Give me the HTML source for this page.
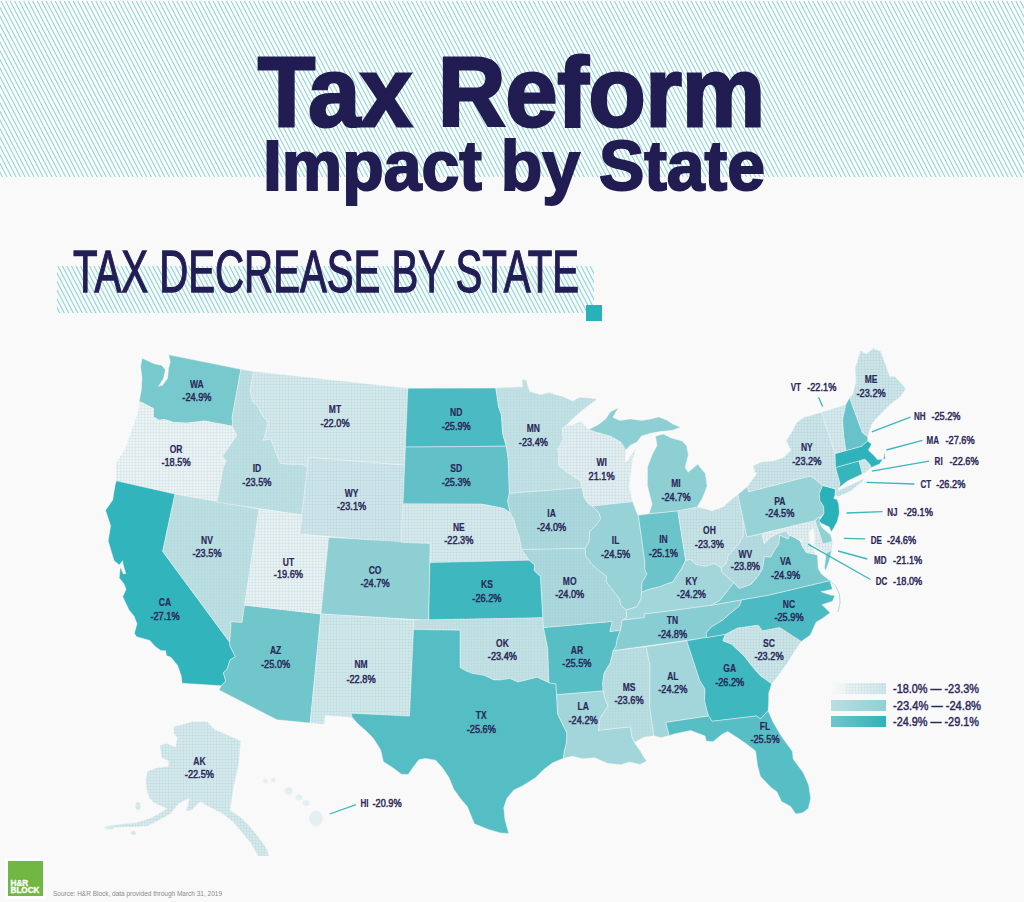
<!DOCTYPE html>
<html><head><meta charset="utf-8"><style>
html,body{margin:0;padding:0;background:#f9f9f9;}
svg{display:block;font-family:"Liberation Sans",sans-serif;}
.ab{font-size:11.5px;font-weight:bold;fill:#2a2859;text-anchor:middle;stroke:#2a2859;stroke-width:0.2px;}
.nm{font-size:11.5px;font-weight:normal;fill:#2a2859;text-anchor:middle;stroke:#2a2859;stroke-width:0.5px;}
.st{text-anchor:start;}
</style></head><body>
<svg width="1024" height="902" viewBox="0 0 1024 902">
<defs>
<pattern id="hatch" width="4" height="4" patternUnits="userSpaceOnUse" patternTransform="rotate(-27.5)">
<rect x="0" y="0" width="1.05" height="4" fill="#84d4d3"/></pattern>
<pattern id="grid" width="3" height="3" patternUnits="userSpaceOnUse">
<rect x="0" y="0" width="3" height="0.6" fill="#8fb3bd" fill-opacity="0.22"/><rect x="0" y="0" width="0.6" height="3" fill="#8fb3bd" fill-opacity="0.22"/></pattern>
<linearGradient id="lg1" x1="0" x2="1"><stop offset="0" stop-color="#f8f8f8"/><stop offset="1" stop-color="#cfe8ea"/></linearGradient>
<linearGradient id="lg2" x1="0" x2="1"><stop offset="0" stop-color="#b9dfe2"/><stop offset="1" stop-color="#8fd0d4"/></linearGradient>
<linearGradient id="lg3" x1="0" x2="1"><stop offset="0" stop-color="#6fc6cb"/><stop offset="1" stop-color="#30b2ba"/></linearGradient>
</defs>
<rect width="1024" height="902" fill="#f9f9f9"/>
<rect x="0" y="1" width="1024" height="176" fill="#ffffff"/>
<rect x="0" y="1" width="1024" height="176" fill="url(#hatch)"/>
<text x="258" y="126" font-size="99" font-weight="bold" fill="#211d52" stroke="#211d52" stroke-width="3" textLength="507" lengthAdjust="spacingAndGlyphs">Tax Reform</text>
<text x="263" y="190" font-size="70" font-weight="bold" fill="#211d52" stroke="#211d52" stroke-width="2" textLength="502" lengthAdjust="spacingAndGlyphs">Impact by State</text>
<rect x="57" y="266" width="537" height="47" fill="url(#hatch)"/>
<text x="73" y="292" font-size="60" fill="#221e55" stroke="#221e55" stroke-width="1.3" textLength="506" lengthAdjust="spacingAndGlyphs">TAX DECREASE BY STATE</text>
<rect x="586" y="305" width="16" height="16" fill="#2ab0b8"/>
<g stroke="#f4f7f7" stroke-width="0.45" stroke-linejoin="round">
<path d="M139.2,401.5 141.1,402.2 148.5,405.9 153.4,408.5 153.3,416.9 158.9,420.2 164.6,419.5 173.7,422.5 187.5,423.1 200.3,421.5 204.6,421.0 232.2,426.2 232.8,422.9 232.1,417.7 240.9,369.3 168.7,354.7 170.3,361.8 168.5,368.7 167.5,378.4 162.5,385.3 158.6,386.2 163.5,378.5 165.4,369.7 161.5,365.3 154.8,363.9 142.0,358.2 140.6,366.5 142.0,377.7 141.5,387.4 141.1,391.3 139.2,401.5Z" fill="#78c9ce"/>
<path d="M139.2,401.5 141.1,402.2 148.5,405.9 153.4,408.5 153.3,416.9 158.9,420.2 164.6,419.5 173.7,422.5 187.5,423.1 200.3,421.5 204.6,421.0 232.2,426.2 236.7,435.4 230.9,444.2 222.6,456.2 226.3,460.8 223.2,467.8 216.9,502.2 116.3,480.8 115.7,463.7 121.8,454.2 125.8,447.2 131.1,432.5 136.8,416.0 139.2,406.7Z" fill="#ebf3f4"/>
<path d="M139.2,401.5 141.1,402.2 148.5,405.9 153.4,408.5 153.3,416.9 158.9,420.2 164.6,419.5 173.7,422.5 187.5,423.1 200.3,421.5 204.6,421.0 232.2,426.2 236.7,435.4 230.9,444.2 222.6,456.2 226.3,460.8 223.2,467.8 216.9,502.2 116.3,480.8 115.7,463.7 121.8,454.2 125.8,447.2 131.1,432.5 136.8,416.0 139.2,406.7Z" fill="url(#grid)" stroke="none" opacity="1.00"/>
<path d="M116.3,480.8 175.0,494.1 162.7,551.4 229.7,642.2 230.0,646.2 235.4,656.7 230.1,659.9 227.0,669.3 223.4,672.7 225.7,680.9 221.4,685.7 182.1,683.3 181.3,675.9 177.6,665.4 170.9,657.3 166.4,655.5 165.7,650.8 160.8,650.5 155.1,646.4 149.9,640.4 136.5,636.7 134.4,633.3 137.0,623.8 134.1,616.3 129.1,610.2 122.7,596.7 126.0,589.5 124.1,584.1 119.2,577.9 120.3,567.1 123.4,573.9 125.8,573.4 123.2,564.8 122.7,560.7 119.3,564.9 114.1,560.7 108.2,541.1 110.6,525.7 105.5,510.3 112.7,500.0 115.0,485.6Z" fill="#32b4bc"/>
<path d="M175.0,494.1 259.3,509.1 242.1,622.4 231.1,621.8 230.5,632.5 229.7,642.2 162.7,551.4Z" fill="#bcdfe2"/>
<path d="M175.0,494.1 259.3,509.1 242.1,622.4 231.1,621.8 230.5,632.5 229.7,642.2 162.7,551.4Z" fill="url(#grid)" stroke="none" opacity="0.60"/>
<path d="M244.5,605.1 320.9,614.0 310.2,723.0 277.0,719.8 219.0,689.9 221.4,685.7 225.7,680.9 223.4,672.7 227.0,669.3 230.1,659.9 235.4,656.7 230.0,646.2 229.7,642.2 230.5,632.5 231.1,621.8 242.1,622.4Z" fill="#70c6cb"/>
<path d="M240.9,369.3 253.5,371.5 250.2,390.7 252.7,401.4 257.7,406.1 264.0,417.8 267.1,419.5 267.4,426.2 263.5,440.2 271.0,438.8 275.9,452.8 280.7,463.3 289.7,464.1 302.0,464.2 307.5,467.2 301.9,514.9 216.9,502.2 223.2,467.8 226.3,460.8 222.6,456.2 230.9,444.2 236.7,435.4 232.2,426.2 232.8,422.9 232.1,417.7Z" fill="#bcdfe2"/>
<path d="M240.9,369.3 253.5,371.5 250.2,390.7 252.7,401.4 257.7,406.1 264.0,417.8 267.1,419.5 267.4,426.2 263.5,440.2 271.0,438.8 275.9,452.8 280.7,463.3 289.7,464.1 302.0,464.2 307.5,467.2 301.9,514.9 216.9,502.2 223.2,467.8 226.3,460.8 222.6,456.2 230.9,444.2 236.7,435.4 232.2,426.2 232.8,422.9 232.1,417.7Z" fill="url(#grid)" stroke="none" opacity="0.60"/>
<path d="M253.5,371.5 407.8,388.2 404.6,465.2 308.7,457.3 307.5,467.2 302.0,464.2 289.7,464.1 280.7,463.3 275.9,452.8 271.0,438.8 263.5,440.2 267.4,426.2 267.1,419.5 264.0,417.8 257.7,406.1 252.7,401.4 250.2,390.7Z" fill="#d4e9eb"/>
<path d="M253.5,371.5 407.8,388.2 404.6,465.2 308.7,457.3 307.5,467.2 302.0,464.2 289.7,464.1 280.7,463.3 275.9,452.8 271.0,438.8 263.5,440.2 267.4,426.2 267.1,419.5 264.0,417.8 257.7,406.1 252.7,401.4 250.2,390.7Z" fill="url(#grid)" stroke="none" opacity="1.00"/>
<path d="M308.7,457.3 404.6,465.2 401.3,542.5 299.6,534.1Z" fill="#cee6e9"/>
<path d="M308.7,457.3 404.6,465.2 401.3,542.5 299.6,534.1Z" fill="url(#grid)" stroke="none" opacity="1.00"/>
<path d="M259.1,509.1 301.9,514.9 299.6,534.1 328.6,537.3 320.9,614.0 244.5,605.1Z" fill="#e9f2f3"/>
<path d="M259.1,509.1 301.9,514.9 299.6,534.1 328.6,537.3 320.9,614.0 244.5,605.1Z" fill="url(#grid)" stroke="none" opacity="1.00"/>
<path d="M328.6,537.3 430.3,543.3 428.5,620.3 320.9,614.0Z" fill="#8dcfd3"/>
<path d="M320.9,614.0 413.9,619.9 413.5,629.5 409.5,716.1 351.1,713.2 352.3,717.5 325.0,715.5 324.2,724.2 310.2,723.0Z" fill="#d1e8ea"/>
<path d="M320.9,614.0 413.9,619.9 413.5,629.5 409.5,716.1 351.1,713.2 352.3,717.5 325.0,715.5 324.2,724.2 310.2,723.0Z" fill="url(#grid)" stroke="none" opacity="1.00"/>
<path d="M407.8,388.2 495.8,388.1 497.0,395.6 498.6,407.0 501.4,414.6 502.7,433.7 506.3,446.2 405.4,447.1Z" fill="#4cbac2"/>
<path d="M405.4,447.1 506.3,446.2 508.2,458.5 509.4,493.2 507.6,501.1 510.2,512.8 503.7,508.5 494.5,506.6 481.5,504.2 403.0,503.9Z" fill="#62c1c8"/>
<path d="M403.0,503.9 481.5,504.2 494.5,506.6 503.7,508.5 510.2,512.8 514.1,520.2 516.6,529.8 519.4,537.4 521.6,549.4 529.1,560.2 429.9,562.6 430.3,543.3 401.3,542.5Z" fill="#d6eaed"/>
<path d="M403.0,503.9 481.5,504.2 494.5,506.6 503.7,508.5 510.2,512.8 514.1,520.2 516.6,529.8 519.4,537.4 521.6,549.4 529.1,560.2 429.9,562.6 430.3,543.3 401.3,542.5Z" fill="url(#grid)" stroke="none" opacity="1.00"/>
<path d="M429.9,562.6 529.1,560.2 534.6,564.7 534.2,570.6 540.5,576.6 542.9,617.8 428.7,620.3Z" fill="#3eb7bf"/>
<path d="M413.9,619.9 542.9,617.8 543.5,627.5 547.8,648.6 548.9,682.7 537.0,677.3 527.5,679.7 517.9,682.1 509.7,678.5 500.1,680.1 493.7,679.9 484.0,675.3 472.7,673.5 466.3,671.0 460.0,667.5 460.1,630.2 413.5,629.5Z" fill="#c2e1e4"/>
<path d="M413.9,619.9 542.9,617.8 543.5,627.5 547.8,648.6 548.9,682.7 537.0,677.3 527.5,679.7 517.9,682.1 509.7,678.5 500.1,680.1 493.7,679.9 484.0,675.3 472.7,673.5 466.3,671.0 460.0,667.5 460.1,630.2 413.5,629.5Z" fill="url(#grid)" stroke="none" opacity="0.60"/>
<path d="M413.5,629.5 460.1,630.2 460.0,667.5 466.3,671.0 472.7,673.5 484.0,675.3 493.7,679.9 500.1,680.1 509.7,678.5 517.9,682.1 527.5,679.7 537.0,677.3 548.9,682.7 556.0,684.0 556.6,694.6 557.7,714.0 562.2,723.4 566.9,732.8 566.6,742.6 564.5,750.5 563.4,758.3 552.3,763.0 544.0,769.3 535.8,777.5 522.3,785.9 513.8,790.1 507.0,798.1 503.7,807.8 504.9,819.4 508.7,833.5 500.8,832.9 488.4,829.4 474.3,823.8 467.3,806.5 460.5,798.7 453.7,789.0 448.8,777.3 442.2,767.5 435.6,760.2 425.5,758.4 418.8,759.8 413.5,766.8 408.2,774.4 401.4,774.2 393.2,768.0 383.4,761.7 380.7,749.9 373.0,737.8 366.7,731.6 357.3,723.3 352.3,717.5 351.1,713.2 409.5,716.1Z" fill="#55bdc4"/>
<path d="M556.6,694.6 603.1,690.8 604.9,698.4 608.1,705.9 600.1,718.4 598.5,730.2 630.5,726.8 632.0,736.4 634.3,742.4 636.4,745.6 640.4,751.0 644.6,758.2 646.7,760.9 640.1,764.6 629.5,761.9 621.1,764.8 607.2,763.3 594.7,757.7 582.8,758.8 572.4,756.3 563.4,758.3 564.5,750.5 566.6,742.6 566.9,732.8 562.2,723.4 557.7,714.0Z" fill="#a3d6da"/>
<path d="M543.5,627.5 612.3,621.4 610.0,631.4 620.4,630.3 617.4,638.5 615.9,646.5 613.2,650.7 610.4,662.7 604.2,673.1 602.7,683.0 603.1,690.8 556.6,694.6 556.0,684.0 548.9,682.7 547.8,648.6Z" fill="#58bec5"/>
<path d="M521.6,549.4 585.2,548.2 585.5,555.6 591.6,563.8 598.2,570.0 606.4,576.0 606.3,581.9 612.6,590.0 619.8,599.0 620.5,604.8 626.2,610.0 626.7,617.8 622.3,620.2 620.4,630.3 610.0,631.4 612.3,621.4 543.5,627.5 542.9,617.8 540.5,576.6 534.2,570.6 534.6,564.7 529.1,560.2Z" fill="#aad8dc"/>
<path d="M521.6,549.4 585.2,548.2 585.5,555.6 591.6,563.8 598.2,570.0 606.4,576.0 606.3,581.9 612.6,590.0 619.8,599.0 620.5,604.8 626.2,610.0 626.7,617.8 622.3,620.2 620.4,630.3 610.0,631.4 612.3,621.4 543.5,627.5 542.9,617.8 540.5,576.6 534.2,570.6 534.6,564.7 529.1,560.2Z" fill="url(#grid)" stroke="none" opacity="0.60"/>
<path d="M509.4,493.2 582.2,487.6 584.1,497.2 588.3,503.6 592.3,506.1 599.3,513.1 600.7,518.8 596.3,525.2 589.7,531.7 589.2,541.5 585.2,548.2 521.6,549.4 519.4,537.4 516.6,529.8 514.1,520.2 510.2,512.8 507.6,501.1Z" fill="#aad8dc"/>
<path d="M509.4,493.2 582.2,487.6 584.1,497.2 588.3,503.6 592.3,506.1 599.3,513.1 600.7,518.8 596.3,525.2 589.7,531.7 589.2,541.5 585.2,548.2 521.6,549.4 519.4,537.4 516.6,529.8 514.1,520.2 510.2,512.8 507.6,501.1Z" fill="url(#grid)" stroke="none" opacity="0.60"/>
<path d="M495.8,388.1 522.5,386.7 522.2,379.5 524.8,379.5 526.5,380.7 528.7,388.6 529.9,391.6 540.4,394.6 549.4,392.4 556.1,394.7 564.1,396.9 572.3,400.9 579.9,397.3 590.5,398.1 597.2,399.3 584.8,408.3 572.5,419.1 565.0,426.5 562.5,428.2 563.3,439.5 557.9,449.2 559.0,454.9 558.4,465.6 565.7,470.8 571.6,475.1 580.5,481.0 582.2,487.6 509.4,493.2 508.2,458.5 506.3,446.2 502.7,433.7 501.4,414.6 498.6,407.0 497.0,395.6Z" fill="#c2e1e4"/>
<path d="M495.8,388.1 522.5,386.7 522.2,379.5 524.8,379.5 526.5,380.7 528.7,388.6 529.9,391.6 540.4,394.6 549.4,392.4 556.1,394.7 564.1,396.9 572.3,400.9 579.9,397.3 590.5,398.1 597.2,399.3 584.8,408.3 572.5,419.1 565.0,426.5 562.5,428.2 563.3,439.5 557.9,449.2 559.0,454.9 558.4,465.6 565.7,470.8 571.6,475.1 580.5,481.0 582.2,487.6 509.4,493.2 508.2,458.5 506.3,446.2 502.7,433.7 501.4,414.6 498.6,407.0 497.0,395.6Z" fill="url(#grid)" stroke="none" opacity="0.60"/>
<path d="M565.0,426.5 573.0,424.8 580.7,421.2 588.6,429.6 597.8,432.7 610.2,435.9 621.1,442.2 625.7,449.9 624.8,462.6 628.0,460.3 636.2,447.6 633.3,457.7 631.6,466.6 630.5,474.5 629.2,486.4 630.9,493.9 632.6,501.7 592.3,506.1 588.3,503.6 584.1,497.2 582.2,487.6 580.5,481.0 571.6,475.1 565.7,470.8 558.4,465.6 559.0,454.9 557.9,449.2 563.3,439.5 562.5,428.2Z" fill="#e2eef0"/>
<path d="M565.0,426.5 573.0,424.8 580.7,421.2 588.6,429.6 597.8,432.7 610.2,435.9 621.1,442.2 625.7,449.9 624.8,462.6 628.0,460.3 636.2,447.6 633.3,457.7 631.6,466.6 630.5,474.5 629.2,486.4 630.9,493.9 632.6,501.7 592.3,506.1 588.3,503.6 584.1,497.2 582.2,487.6 580.5,481.0 571.6,475.1 565.7,470.8 558.4,465.6 559.0,454.9 557.9,449.2 563.3,439.5 562.5,428.2Z" fill="url(#grid)" stroke="none" opacity="1.00"/>
<path d="M592.3,506.1 632.6,501.7 636.0,510.8 638.5,516.4 644.8,561.5 645.0,570.3 647.0,573.9 642.1,582.4 641.5,592.3 641.2,598.3 636.9,606.7 626.2,610.0 620.5,604.8 619.8,599.0 612.6,590.0 606.3,581.9 606.4,576.0 598.2,570.0 591.6,563.8 585.5,555.6 585.2,548.2 589.2,541.5 589.7,531.7 596.3,525.2 600.7,518.8 599.3,513.1Z" fill="#96d2d6"/>
<path d="M638.4,515.2 648.9,513.8 677.8,510.8 685.7,560.4 681.4,568.9 678.2,573.3 672.7,582.0 666.8,583.9 659.6,586.9 649.2,589.3 641.5,592.3 642.1,582.4 647.0,573.9 645.0,570.3 644.8,561.5Z" fill="#6bc4ca"/>
<path d="M677.8,510.8 697.1,507.1 704.0,508.4 711.9,510.9 723.0,506.9 731.8,499.2 737.9,494.4 743.2,519.7 743.4,526.3 743.2,536.2 739.3,542.9 731.2,552.4 728.1,556.0 726.4,563.2 721.1,567.7 714.1,563.4 705.4,566.3 695.9,564.6 690.5,559.6 685.7,560.4Z" fill="#c8e3e6"/>
<path d="M677.8,510.8 697.1,507.1 704.0,508.4 711.9,510.9 723.0,506.9 731.8,499.2 737.9,494.4 743.2,519.7 743.4,526.3 743.2,536.2 739.3,542.9 731.2,552.4 728.1,556.0 726.4,563.2 721.1,567.7 714.1,563.4 705.4,566.3 695.9,564.6 690.5,559.6 685.7,560.4Z" fill="url(#grid)" stroke="none" opacity="1.00"/>
<path d="M622.3,620.2 644.6,617.5 644.1,614.0 667.9,611.2 711.2,605.3 719.5,600.8 729.7,588.1 733.8,582.6 722.0,572.4 721.1,567.7 714.1,563.4 705.4,566.3 695.9,564.6 690.5,559.6 685.7,560.4 681.4,568.9 678.2,573.3 672.7,582.0 666.8,583.9 659.6,586.9 649.2,589.3 641.5,592.3 641.2,598.3 636.9,606.7 626.2,610.0 626.7,617.8Z" fill="#a3d6da"/>
<path d="M622.3,620.2 644.6,617.5 644.1,614.0 667.9,611.2 711.2,605.3 741.7,599.8 739.5,606.0 729.8,613.8 723.0,619.9 711.5,626.9 706.2,632.7 706.7,637.6 613.2,650.7 615.9,646.5 617.4,638.5 620.4,630.3Z" fill="#88cdd2"/>
<path d="M613.2,650.7 646.1,646.7 650.1,665.8 649.6,707.0 653.9,735.7 643.9,737.3 634.3,742.4 632.0,736.4 630.5,726.8 598.5,730.2 600.1,718.4 608.1,705.9 604.9,698.4 603.1,690.8 602.7,683.0 604.2,673.1 610.4,662.7Z" fill="#b9dee1"/>
<path d="M613.2,650.7 646.1,646.7 650.1,665.8 649.6,707.0 653.9,735.7 643.9,737.3 634.3,742.4 632.0,736.4 630.5,726.8 598.5,730.2 600.1,718.4 608.1,705.9 604.9,698.4 603.1,690.8 602.7,683.0 604.2,673.1 610.4,662.7Z" fill="url(#grid)" stroke="none" opacity="0.60"/>
<path d="M646.1,646.7 686.7,640.8 699.9,680.7 705.1,689.1 704.6,700.9 707.0,710.4 708.7,716.0 665.8,722.4 669.2,735.6 661.0,737.7 653.9,735.7 649.6,707.0 650.1,665.8Z" fill="#a3d6da"/>
<path d="M686.7,640.8 725.5,634.3 722.9,640.7 731.6,644.1 744.6,656.4 751.2,665.1 759.9,675.2 771.7,683.7 768.7,693.2 768.7,701.1 768.1,710.7 760.4,718.9 756.4,716.0 712.0,721.3 708.7,716.0 707.0,710.4 704.6,700.9 705.1,689.1 699.9,680.7Z" fill="#3eb7bf"/>
<path d="M665.8,722.4 708.7,716.0 712.0,721.3 756.4,716.0 760.4,718.9 768.1,710.7 773.0,721.9 781.2,736.0 792.4,751.4 793.2,759.1 803.2,772.6 808.7,785.1 810.7,798.4 808.3,808.6 802.8,812.7 795.8,814.1 790.6,806.5 781.5,801.5 776.8,791.7 770.5,787.1 760.4,776.3 757.6,766.1 755.5,750.9 748.3,745.3 738.3,738.3 727.6,731.4 722.1,734.3 713.0,741.7 706.0,740.9 705.2,736.1 690.7,730.5 674.1,733.9 669.2,735.6Z" fill="#58bec5"/>
<path d="M725.5,634.3 737.4,628.1 757.0,625.3 759.0,625.9 762.2,630.8 779.8,627.5 801.3,641.4 793.3,653.3 788.5,661.3 783.4,668.4 777.7,676.5 771.7,683.7 759.9,675.2 751.2,665.1 744.6,656.4 731.6,644.1 722.9,640.7Z" fill="#cbe5e8"/>
<path d="M725.5,634.3 737.4,628.1 757.0,625.3 759.0,625.9 762.2,630.8 779.8,627.5 801.3,641.4 793.3,653.3 788.5,661.3 783.4,668.4 777.7,676.5 771.7,683.7 759.9,675.2 751.2,665.1 744.6,656.4 731.6,644.1 722.9,640.7Z" fill="url(#grid)" stroke="none" opacity="1.00"/>
<path d="M706.7,637.6 706.2,632.7 711.5,626.9 723.0,619.9 729.8,613.8 739.5,606.0 741.7,599.8 767.4,595.4 829.8,580.6 832.5,589.3 820.9,591.7 831.3,595.3 834.9,595.3 832.5,601.2 821.9,604.7 826.8,609.3 830.2,612.8 822.0,618.7 816.2,622.1 810.3,635.1 801.3,641.4 779.8,627.5 762.2,630.8 759.0,625.9 757.0,625.3 737.4,628.1 725.5,634.3Z" fill="#4cbac2"/>
<path d="M711.2,605.3 741.7,599.8 767.4,595.4 829.8,580.6 821.1,573.7 818.2,568.5 817.5,556.6 817.0,554.7 806.3,552.4 802.4,546.4 800.3,540.9 793.1,536.7 789.4,535.2 788.2,538.9 779.6,535.0 778.7,544.2 775.1,549.0 770.7,557.0 764.4,556.4 762.4,568.7 758.4,575.5 751.5,583.8 746.5,585.9 739.1,588.3 733.8,582.6 729.7,588.1 719.5,600.8Z" fill="#78c9ce"/>
<path d="M831.7,550.1 826.1,553.3 824.4,567.9 825.6,570.6 829.1,561.6Z" fill="#78c9ce"/>
<path d="M721.1,567.7 726.4,563.2 728.1,556.0 731.2,552.4 739.3,542.9 743.2,536.2 743.4,526.3 743.2,519.7 746.9,537.0 762.0,533.7 764.2,543.6 770.9,537.1 777.7,533.5 785.5,530.6 789.4,535.2 788.2,538.9 779.6,535.0 778.7,544.2 775.1,549.0 770.7,557.0 764.4,556.4 762.4,568.7 758.4,575.5 751.5,583.8 746.5,585.9 739.1,588.3 733.8,582.6 722.0,572.4Z" fill="#b3dbdf"/>
<path d="M721.1,567.7 726.4,563.2 728.1,556.0 731.2,552.4 739.3,542.9 743.2,536.2 743.4,526.3 743.2,519.7 746.9,537.0 762.0,533.7 764.2,543.6 770.9,537.1 777.7,533.5 785.5,530.6 789.4,535.2 788.2,538.9 779.6,535.0 778.7,544.2 775.1,549.0 770.7,557.0 764.4,556.4 762.4,568.7 758.4,575.5 751.5,583.8 746.5,585.9 739.1,588.3 733.8,582.6 722.0,572.4Z" fill="url(#grid)" stroke="none" opacity="0.60"/>
<path d="M762.0,533.7 815.3,520.5 822.9,544.0 832.4,541.4 831.7,550.1 826.1,553.3 821.2,549.5 813.9,545.4 814.4,535.2 813.2,527.5 809.1,532.6 810.0,542.4 815.1,553.2 817.0,554.7 806.3,552.4 802.4,546.4 800.3,540.9 793.1,536.7 789.4,535.2 785.5,530.6 777.7,533.5 770.9,537.1 764.2,543.6Z" fill="#e2eef0"/>
<path d="M762.0,533.7 815.3,520.5 822.9,544.0 832.4,541.4 831.7,550.1 826.1,553.3 821.2,549.5 813.9,545.4 814.4,535.2 813.2,527.5 809.1,532.6 810.0,542.4 815.1,553.2 817.0,554.7 806.3,552.4 802.4,546.4 800.3,540.9 793.1,536.7 789.4,535.2 785.5,530.6 777.7,533.5 770.9,537.1 764.2,543.6Z" fill="url(#grid)" stroke="none" opacity="1.00"/>
<path d="M815.3,520.5 817.5,517.6 819.8,517.6 820.1,524.6 823.5,528.7 830.6,534.8 832.4,541.4 822.9,544.0Z" fill="#91d0d5"/>
<path d="M737.9,494.4 747.5,486.6 748.6,491.7 810.1,476.0 814.7,478.7 822.6,485.5 819.4,493.5 819.8,500.4 823.7,506.4 824.1,513.4 819.8,517.6 817.5,517.6 815.3,520.5 746.9,537.0Z" fill="#96d2d6"/>
<path d="M822.6,485.5 835.6,489.0 835.2,494.6 833.7,498.4 837.1,499.5 838.7,504.1 839.4,513.0 837.2,521.8 831.4,532.0 829.3,527.1 821.3,523.3 819.1,520.8 824.1,513.4 823.7,506.4 819.8,500.4 819.4,493.5Z" fill="#2ab1b9"/>
<path d="M747.5,486.6 748.6,491.7 810.1,476.0 814.7,478.7 822.6,485.5 835.6,489.0 835.2,494.6 837.9,496.8 850.1,491.5 862.3,481.6 863.6,478.8 855.1,482.9 844.4,487.8 838.3,490.4 838.9,487.8 840.1,483.4 835.5,467.5 835.1,453.5 821.5,412.2 803.7,417.6 796.6,422.7 791.9,432.0 786.2,440.6 790.9,450.3 783.9,457.2 773.2,461.0 760.4,462.2 753.1,465.9 754.7,472.5 757.0,472.9Z" fill="#cbe5e8"/>
<path d="M747.5,486.6 748.6,491.7 810.1,476.0 814.7,478.7 822.6,485.5 835.6,489.0 835.2,494.6 837.9,496.8 850.1,491.5 862.3,481.6 863.6,478.8 855.1,482.9 844.4,487.8 838.3,490.4 838.9,487.8 840.1,483.4 835.5,467.5 835.1,453.5 821.5,412.2 803.7,417.6 796.6,422.7 791.9,432.0 786.2,440.6 790.9,450.3 783.9,457.2 773.2,461.0 760.4,462.2 753.1,465.9 754.7,472.5 757.0,472.9Z" fill="url(#grid)" stroke="none" opacity="1.00"/>
<path d="M838.9,487.8 840.1,483.4 835.5,467.5 859.0,460.9 862.9,473.7 855.0,477.4 847.0,481.3Z" fill="#36b5bd"/>
<path d="M859.0,460.9 864.7,459.1 869.7,464.0 871.3,467.5 866.8,471.4 862.3,474.1Z" fill="#d3e8ec"/>
<path d="M859.0,460.9 864.7,459.1 869.7,464.0 871.3,467.5 866.8,471.4 862.3,474.1Z" fill="url(#grid)" stroke="none" opacity="1.00"/>
<path d="M835.5,467.5 835.1,453.5 845.9,450.6 861.8,446.2 867.6,440.9 871.6,444.0 868.4,450.2 874.8,456.2 877.5,459.8 885.5,458.8 884.1,452.2 883.8,457.4 879.6,463.9 871.3,467.5 869.7,464.0 864.7,459.1 859.0,460.9Z" fill="#2fb3bb"/>
<path d="M835.1,453.5 845.9,450.6 843.8,435.7 842.6,419.9 845.8,404.6 821.5,412.2Z" fill="#d5e9ec"/>
<path d="M835.1,453.5 845.9,450.6 843.8,435.7 842.6,419.9 845.8,404.6 821.5,412.2Z" fill="url(#grid)" stroke="none" opacity="1.00"/>
<path d="M845.9,450.6 861.8,446.2 867.6,440.9 867.7,436.6 862.5,432.8 849.6,397.6 845.8,404.6 842.6,419.9 843.8,435.7Z" fill="#67c3c9"/>
<path d="M867.7,436.6 871.3,424.9 875.4,419.5 884.1,410.5 890.8,404.1 900.0,396.9 905.8,388.7 900.6,382.4 894.8,376.4 889.6,376.2 880.8,351.6 873.4,348.5 866.2,354.0 860.5,350.7 855.3,367.7 855.9,382.5 852.7,394.6 849.6,397.6 862.5,432.8Z" fill="#cbe5e8"/>
<path d="M867.7,436.6 871.3,424.9 875.4,419.5 884.1,410.5 890.8,404.1 900.0,396.9 905.8,388.7 900.6,382.4 894.8,376.4 889.6,376.2 880.8,351.6 873.4,348.5 866.2,354.0 860.5,350.7 855.3,367.7 855.9,382.5 852.7,394.6 849.6,397.6 862.5,432.8Z" fill="url(#grid)" stroke="none" opacity="1.00"/>
<path d="M648.9,513.8 677.8,510.8 697.1,507.1 702.3,498.6 707.1,486.2 705.4,473.7 697.7,464.3 688.2,472.2 685.1,467.5 688.3,455.0 686.8,445.9 682.1,441.0 671.2,437.9 663.3,433.9 655.5,436.2 657.0,445.5 652.2,454.8 647.5,467.1 647.4,485.6 652.1,504.2Z" fill="#8dcfd3"/>
<path d="M588.6,429.6 597.9,424.9 605.7,418.9 610.4,411.8 618.3,407.9 612.8,417.3 619.8,420.5 630.6,418.9 641.6,420.5 650.9,419.0 658.8,416.9 666.5,419.9 672.8,424.0 680.6,427.2 672.7,430.2 660.2,431.6 650.9,433.2 641.5,436.0 636.7,442.3 630.4,445.2 625.7,449.9 621.1,442.2 610.2,435.9 597.8,432.7Z" fill="#8dcfd3"/>
<path d="M173.8,726.7 L193.2,721.4 L207.2,721.4 L214.3,729.3 L223.0,732.9 L240.6,740.8 L238.9,762.7 L233.6,787.3 L230.1,810.2 L240.6,817.2 L249.4,826.0 L258.2,836.6 L267.0,848.9 L268.8,855.9 L258.2,855.9 L251.2,843.6 L242.4,833.0 L233.6,822.5 L223.0,813.7 L212.5,808.4 L205.5,804.9 L200.2,801.4 L191.4,810.2 L186.1,811.1 L189.6,797.9 L179.1,803.2 L170.3,813.7 L158.0,820.7 L147.5,826.0 L135.2,826.9 L124.6,826.9 L105.3,828.5 L105.3,826.5 L124.6,823.8 L136.9,822.5 L152.7,817.2 L161.5,812.0 L166.8,808.4 L154.5,803.2 L149.2,797.9 L146.6,789.1 L145.7,780.3 L147.5,771.5 L156.2,768.0 L168.6,766.2 L168.6,761.0 L161.5,757.5 L159.8,745.2 L166.8,743.4 L175.6,746.9 L177.3,738.1 L173.8,732.9 Z" fill="#d4e9ec"/><path d="M173.8,726.7 L193.2,721.4 L207.2,721.4 L214.3,729.3 L223.0,732.9 L240.6,740.8 L238.9,762.7 L233.6,787.3 L230.1,810.2 L240.6,817.2 L249.4,826.0 L258.2,836.6 L267.0,848.9 L268.8,855.9 L258.2,855.9 L251.2,843.6 L242.4,833.0 L233.6,822.5 L223.0,813.7 L212.5,808.4 L205.5,804.9 L200.2,801.4 L191.4,810.2 L186.1,811.1 L189.6,797.9 L179.1,803.2 L170.3,813.7 L158.0,820.7 L147.5,826.0 L135.2,826.9 L124.6,826.9 L105.3,828.5 L105.3,826.5 L124.6,823.8 L136.9,822.5 L152.7,817.2 L161.5,812.0 L166.8,808.4 L154.5,803.2 L149.2,797.9 L146.6,789.1 L145.7,780.3 L147.5,771.5 L156.2,768.0 L168.6,766.2 L168.6,761.0 L161.5,757.5 L159.8,745.2 L166.8,743.4 L175.6,746.9 L177.3,738.1 L173.8,732.9 Z" fill="url(#grid)" stroke="none"/>
<ellipse cx="138.0" cy="806.0" rx="2.5" ry="4.0" fill="#d4e9ec" stroke="none"/>
<ellipse cx="133.4" cy="833.0" rx="2.5" ry="2.0" fill="#d4e9ec" stroke="none"/>
<ellipse cx="110.5" cy="827.8" rx="3.0" ry="1.5" fill="#d4e9ec" stroke="none"/>
<ellipse cx="265.6" cy="781.0" rx="2.5" ry="2.5" fill="#e3eff0"/>
<ellipse cx="273.0" cy="780.0" rx="2.5" ry="2.5" fill="#e3eff0"/>
<ellipse cx="288.7" cy="791.0" rx="4.0" ry="4.0" fill="#e3eff0"/>
<ellipse cx="299.0" cy="797.5" rx="3.5" ry="3.0" fill="#e3eff0"/>
<ellipse cx="306.0" cy="803.0" rx="3.5" ry="3.0" fill="#e3eff0"/>
<ellipse cx="316.0" cy="818.4" rx="7.0" ry="8.0" fill="#e3eff0"/>
</g>
<path d="M829.5,580 Q845,592 838,612" fill="none" stroke="#9ad3d6" stroke-width="0.8"/>
<circle cx="801.3" cy="540.6" r="1.2" fill="#eef3f3"/>
<text class="ab" transform="translate(196.9,387.8) scale(0.74,1)">WA</text>
<text class="nm" transform="translate(196.9,401.2) scale(0.8,1)">-24.9%</text>
<text class="ab" transform="translate(335.0,413.4) scale(0.74,1)">MT</text>
<text class="nm" transform="translate(335.0,427.0) scale(0.8,1)">-22.0%</text>
<text class="ab" transform="translate(176.0,453.4) scale(0.74,1)">OR</text>
<text class="nm" transform="translate(176.0,465.9) scale(0.8,1)">-18.5%</text>
<text class="ab" transform="translate(256.9,472.0) scale(0.74,1)">ID</text>
<text class="nm" transform="translate(256.9,486.2) scale(0.8,1)">-23.5%</text>
<text class="ab" transform="translate(351.6,497.0) scale(0.74,1)">WY</text>
<text class="nm" transform="translate(351.6,510.0) scale(0.8,1)">-23.1%</text>
<text class="ab" transform="translate(207.0,544.0) scale(0.74,1)">NV</text>
<text class="nm" transform="translate(207.0,557.4) scale(0.8,1)">-23.5%</text>
<text class="ab" transform="translate(288.4,565.9) scale(0.74,1)">UT</text>
<text class="nm" transform="translate(288.4,578.4) scale(0.8,1)">-19.6%</text>
<text class="ab" transform="translate(375.0,574.3) scale(0.74,1)">CO</text>
<text class="nm" transform="translate(375.0,587.0) scale(0.8,1)">-24.7%</text>
<text class="ab" transform="translate(165.0,606.0) scale(0.74,1)">CA</text>
<text class="nm" transform="translate(165.0,619.5) scale(0.8,1)">-27.1%</text>
<text class="ab" transform="translate(456.2,416.2) scale(0.74,1)">ND</text>
<text class="nm" transform="translate(456.2,429.6) scale(0.8,1)">-25.9%</text>
<text class="ab" transform="translate(533.4,431.8) scale(0.74,1)">MN</text>
<text class="nm" transform="translate(533.4,445.9) scale(0.8,1)">-23.4%</text>
<text class="ab" transform="translate(456.2,472.4) scale(0.74,1)">SD</text>
<text class="nm" transform="translate(456.2,485.9) scale(0.8,1)">-25.3%</text>
<text class="ab" transform="translate(601.6,466.2) scale(0.74,1)">WI</text>
<text class="nm" transform="translate(601.6,480.2) scale(0.8,1)">21.1%</text>
<text class="ab" transform="translate(676.0,486.8) scale(0.74,1)">MI</text>
<text class="nm" transform="translate(676.0,500.6) scale(0.8,1)">-24.7%</text>
<text class="ab" transform="translate(551.6,517.0) scale(0.74,1)">IA</text>
<text class="nm" transform="translate(551.6,531.2) scale(0.8,1)">-24.0%</text>
<text class="ab" transform="translate(458.8,531.2) scale(0.74,1)">NE</text>
<text class="nm" transform="translate(458.8,544.3) scale(0.8,1)">-22.3%</text>
<text class="ab" transform="translate(615.6,544.3) scale(0.74,1)">IL</text>
<text class="nm" transform="translate(615.6,557.8) scale(0.8,1)">-24.5%</text>
<text class="ab" transform="translate(663.4,543.0) scale(0.74,1)">IN</text>
<text class="nm" transform="translate(663.4,556.8) scale(0.8,1)">-25.1%</text>
<text class="ab" transform="translate(709.4,534.0) scale(0.74,1)">OH</text>
<text class="nm" transform="translate(709.4,547.5) scale(0.8,1)">-23.3%</text>
<text class="ab" transform="translate(486.9,588.4) scale(0.74,1)">KS</text>
<text class="nm" transform="translate(486.9,602.1) scale(0.8,1)">-26.2%</text>
<text class="ab" transform="translate(569.7,585.0) scale(0.74,1)">MO</text>
<text class="nm" transform="translate(569.7,598.4) scale(0.8,1)">-24.0%</text>
<text class="ab" transform="translate(691.4,585.0) scale(0.74,1)">KY</text>
<text class="nm" transform="translate(691.4,598.4) scale(0.8,1)">-24.2%</text>
<text class="ab" transform="translate(672.5,624.3) scale(0.74,1)">TN</text>
<text class="nm" transform="translate(672.5,638.0) scale(0.8,1)">-24.8%</text>
<text class="ab" transform="translate(871.1,383.4) scale(0.74,1)">ME</text>
<text class="nm" transform="translate(871.1,396.9) scale(0.8,1)">-23.2%</text>
<text class="ab" transform="translate(806.8,451.4) scale(0.74,1)">NY</text>
<text class="nm" transform="translate(806.8,464.9) scale(0.8,1)">-23.2%</text>
<text class="ab" transform="translate(779.8,504.7) scale(0.74,1)">PA</text>
<text class="nm" transform="translate(779.8,517.3) scale(0.8,1)">-24.5%</text>
<text class="ab" transform="translate(745.4,558.0) scale(0.74,1)">WV</text>
<text class="nm" transform="translate(745.4,570.0) scale(0.8,1)">-23.8%</text>
<text class="ab" transform="translate(785.5,565.2) scale(0.74,1)">VA</text>
<text class="nm" transform="translate(785.5,579.0) scale(0.8,1)">-24.9%</text>
<text class="ab" transform="translate(275.6,654.3) scale(0.74,1)">AZ</text>
<text class="nm" transform="translate(275.6,667.7) scale(0.8,1)">-25.0%</text>
<text class="ab" transform="translate(361.0,668.4) scale(0.74,1)">NM</text>
<text class="nm" transform="translate(361.0,682.5) scale(0.8,1)">-22.8%</text>
<text class="ab" transform="translate(502.4,646.6) scale(0.74,1)">OK</text>
<text class="nm" transform="translate(502.4,659.6) scale(0.8,1)">-23.4%</text>
<text class="ab" transform="translate(481.3,719.4) scale(0.74,1)">TX</text>
<text class="nm" transform="translate(481.3,733.4) scale(0.8,1)">-25.6%</text>
<text class="ab" transform="translate(789.0,607.8) scale(0.74,1)">NC</text>
<text class="nm" transform="translate(789.0,620.9) scale(0.8,1)">-25.9%</text>
<text class="ab" transform="translate(769.0,646.8) scale(0.74,1)">SC</text>
<text class="nm" transform="translate(769.0,660.0) scale(0.8,1)">-23.2%</text>
<text class="ab" transform="translate(576.9,654.0) scale(0.74,1)">AR</text>
<text class="nm" transform="translate(576.9,667.1) scale(0.8,1)">-25.5%</text>
<text class="ab" transform="translate(729.7,672.4) scale(0.74,1)">GA</text>
<text class="nm" transform="translate(729.7,685.9) scale(0.8,1)">-26.2%</text>
<text class="ab" transform="translate(672.8,679.6) scale(0.74,1)">AL</text>
<text class="nm" transform="translate(672.8,692.8) scale(0.8,1)">-24.2%</text>
<text class="ab" transform="translate(629.0,690.6) scale(0.74,1)">MS</text>
<text class="nm" transform="translate(629.0,703.7) scale(0.8,1)">-23.6%</text>
<text class="ab" transform="translate(583.1,710.2) scale(0.74,1)">LA</text>
<text class="nm" transform="translate(583.1,724.0) scale(0.8,1)">-24.2%</text>
<text class="ab" transform="translate(765.0,729.6) scale(0.74,1)">FL</text>
<text class="nm" transform="translate(765.0,743.0) scale(0.8,1)">-25.5%</text>
<text class="ab" transform="translate(199.4,765.0) scale(0.74,1)">AK</text>
<text class="nm" transform="translate(199.4,778.4) scale(0.8,1)">-22.5%</text>
<text class="ab st" transform="translate(790.7,391.4) scale(0.7,1)">VT</text>
<text class="nm st" transform="translate(807.2,391.4) scale(0.8,1)">-22.1%</text>
<line x1="818.6" y1="397.3" x2="822.6" y2="406.6" stroke="#3cb6bd" stroke-width="1.3"/>
<text class="ab st" transform="translate(913.9,420.4) scale(0.7,1)">NH</text>
<text class="nm st" transform="translate(931.4,420.4) scale(0.8,1)">-25.2%</text>
<line x1="871.8" y1="431.8" x2="910.4" y2="417.2" stroke="#3cb6bd" stroke-width="1.3"/>
<text class="ab st" transform="translate(926.6,443.8) scale(0.7,1)">MA</text>
<text class="nm st" transform="translate(945.5,443.8) scale(0.8,1)">-27.6%</text>
<line x1="886.4" y1="450.0" x2="922.4" y2="440.4" stroke="#3cb6bd" stroke-width="1.3"/>
<text class="ab st" transform="translate(934.6,465.1) scale(0.7,1)">RI</text>
<text class="nm st" transform="translate(949.5,465.1) scale(0.8,1)">-22.6%</text>
<line x1="871.8" y1="471.2" x2="929.0" y2="461.1" stroke="#3cb6bd" stroke-width="1.3"/>
<text class="ab st" transform="translate(920.5,487.7) scale(0.7,1)">CT</text>
<text class="nm st" transform="translate(936.2,487.7) scale(0.8,1)">-26.2%</text>
<line x1="866.5" y1="482.4" x2="914.4" y2="484.0" stroke="#3cb6bd" stroke-width="1.3"/>
<text class="ab st" transform="translate(887.3,515.7) scale(0.7,1)">NJ</text>
<text class="nm st" transform="translate(903.7,515.7) scale(0.8,1)">-29.1%</text>
<line x1="846.5" y1="513.0" x2="882.4" y2="511.7" stroke="#3cb6bd" stroke-width="1.3"/>
<text class="ab st" transform="translate(870.8,543.6) scale(0.7,1)">DE</text>
<text class="nm st" transform="translate(887.0,543.6) scale(0.8,1)">-24.6%</text>
<line x1="843.9" y1="538.3" x2="865.2" y2="538.8" stroke="#3cb6bd" stroke-width="1.3"/>
<text class="ab st" transform="translate(874.0,563.6) scale(0.7,1)">MD</text>
<text class="nm st" transform="translate(893.1,563.6) scale(0.8,1)">-21.1%</text>
<line x1="838.0" y1="551.0" x2="867.3" y2="559.0" stroke="#3cb6bd" stroke-width="1.3"/>
<text class="ab st" transform="translate(875.8,584.9) scale(0.7,1)">DC</text>
<text class="nm st" transform="translate(893.1,584.9) scale(0.8,1)">-18.0%</text>
<line x1="808.0" y1="544.1" x2="870.5" y2="579.5" stroke="#3cb6bd" stroke-width="1.3"/>
<text class="ab st" transform="translate(360.5,807.3) scale(0.7,1)">HI</text>
<text class="nm st" transform="translate(372.5,807.3) scale(0.8,1)">-20.9%</text>
<line x1="329.7" y1="814.0" x2="356.0" y2="804.7" stroke="#3cb6bd" stroke-width="1.3"/>
<rect x="831" y="683" width="55" height="11" fill="url(#lg1)"/><rect x="846" y="683" width="40" height="11" fill="url(#grid)" opacity="0.8"/>
<rect x="831" y="700" width="55" height="11" fill="url(#lg2)"/>
<rect x="831" y="716" width="55" height="11" fill="url(#lg3)"/>
<text x="893" y="693" font-size="13" fill="#2a2859" stroke="#2a2859" stroke-width="0.45" textLength="86" lengthAdjust="spacingAndGlyphs">-18.0% — -23.3%</text>
<text x="893" y="709.5" font-size="13" fill="#2a2859" stroke="#2a2859" stroke-width="0.45" textLength="88" lengthAdjust="spacingAndGlyphs">-23.4% — -24.8%</text>
<text x="893" y="726" font-size="13" fill="#2a2859" stroke="#2a2859" stroke-width="0.45" textLength="86" lengthAdjust="spacingAndGlyphs">-24.9% — -29.1%</text>
<rect x="5" y="858" width="41" height="41" fill="#fdfdfd"/><rect x="8" y="861" width="35" height="35" fill="#72b743"/>
<text x="10.5" y="885.8" font-size="8.2" font-weight="bold" fill="#ffffff" stroke="#ffffff" stroke-width="0.3">H&amp;R</text>
<text x="10.5" y="893.3" font-size="8.2" font-weight="bold" fill="#ffffff" stroke="#ffffff" stroke-width="0.3" textLength="29" lengthAdjust="spacingAndGlyphs">BLOCK</text>
<text x="53" y="896" font-size="7" fill="#8a8a8a" textLength="169" lengthAdjust="spacingAndGlyphs">Source: H&amp;R Block, data provided through March 31, 2019</text>
</svg>
</body></html>
